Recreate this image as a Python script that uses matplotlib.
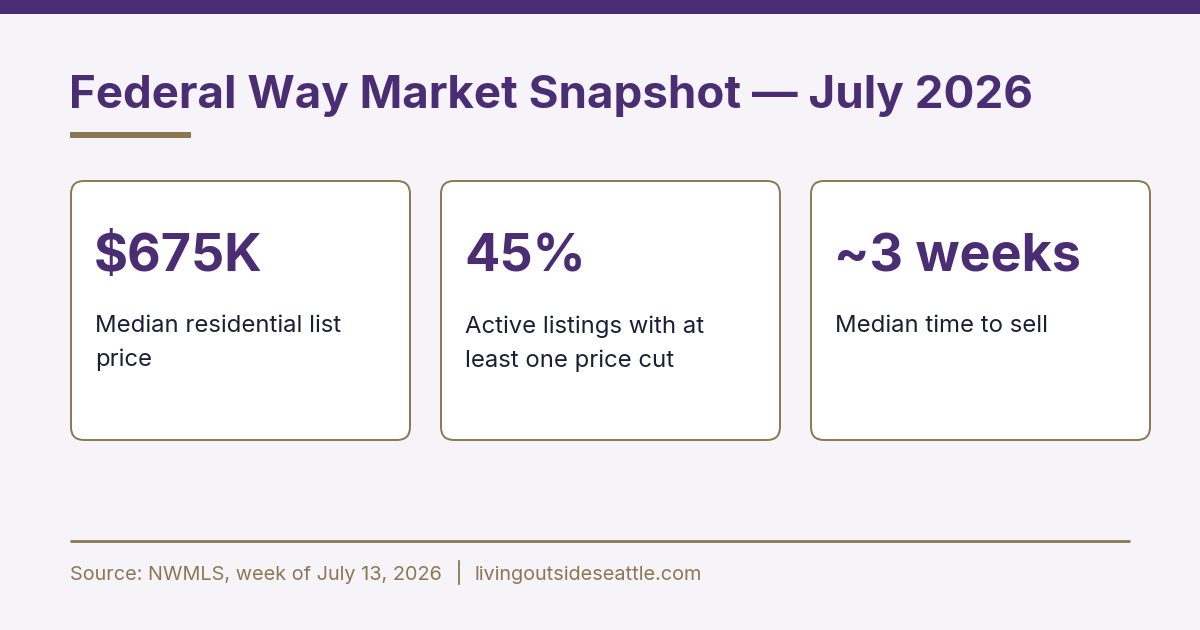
import matplotlib
matplotlib.use("Agg")
import matplotlib.pyplot as plt
from matplotlib.patches import FancyBboxPatch, Rectangle

title = "Federal Way Market Snapshot \u2014 July 2026"
values = ["$675K", "45%", "~3 weeks"]
labels = ["Median residential list\nprice",
          "Active listings with at\nleast one price cut",
          "Median time to sell"]
footer_source = "Source: NWMLS, week of July 13, 2026"
footer_site = "livingoutsideseattle.com"

PURPLE = "#4a2d72"
GOLD = "#8b7752"
BG = "#f7f4f9"
DARK = "#1a1f36"

plt.rcParams['font.family'] = ['Inter', 'DejaVu Sans']

fig = plt.figure(figsize=(12, 6.3), dpi=100)
fig.patch.set_facecolor(BG)
ax = fig.add_axes([0, 0, 1, 1])
ax.set_xlim(0, 1200)
ax.set_ylim(630, 0)
ax.axis("off")
ax.set_facecolor(BG)

# top bar
ax.add_patch(Rectangle((0, 0), 1200, 14, color=PURPLE, lw=0))

# title
ax.text(69, 108, title, fontsize=32.9, fontweight="bold", color=PURPLE,
        ha="left", va="baseline")
ax.add_patch(Rectangle((70, 132), 121, 6, color=GOLD, lw=0))

# cards
card_x = [71, 441, 811]
card_w = 339
card_y = 181
card_h = 259
for x0, v, lab in zip(card_x, values, labels):
    ax.add_patch(FancyBboxPatch((x0, card_y), card_w, card_h,
                                boxstyle="round,pad=0,rounding_size=13",
                                facecolor="white", edgecolor=GOLD, lw=1.4))
    ax.text(x0 + 23, 271, v, fontsize=37.5, fontweight="bold", color=PURPLE,
            ha="left", va="baseline")
    ax.text(x0 + 24, 315, lab, fontsize=17.2, color=DARK, ha="left", va="top",
            linespacing=1.66)

# footer
ax.plot([70, 1130], [541, 541], color=GOLD, lw=2, solid_capstyle="butt")
ax.text(70, 580, footer_source, fontsize=14.3, color=GOLD,
        ha="left", va="baseline")
ax.plot([459, 459], [561, 584], color=GOLD, lw=1.3)
ax.text(474, 580, footer_site, fontsize=14.3, color=GOLD,
        ha="left", va="baseline")

fig.savefig("out.png", dpi=100, facecolor=BG)
